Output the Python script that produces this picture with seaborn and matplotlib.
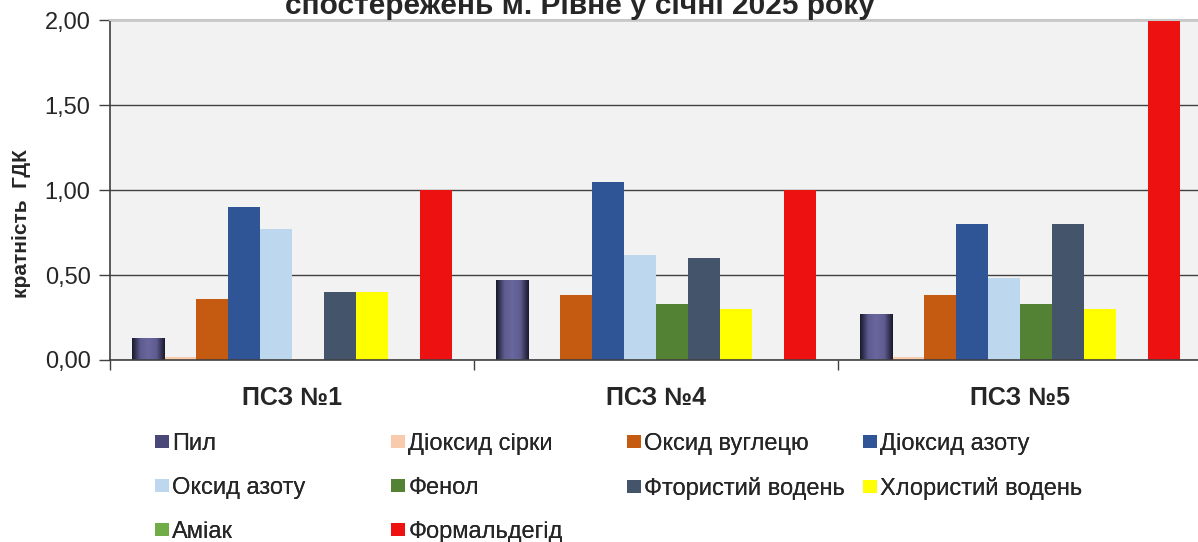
import numpy as np
import pandas as pd
import matplotlib
matplotlib.use("Agg")
import matplotlib.pyplot as plt
import seaborn as sns
from matplotlib.colors import LinearSegmentedColormap
from matplotlib.patches import Patch

# дані
posts = ["ПСЗ №1", "ПСЗ №4", "ПСЗ №5"]
substances = ["Пил", "Діоксид сірки", "Оксид вуглецю", "Діоксид азоту", "Оксид азоту",
              "Фенол", "Фтористий водень", "Хлористий водень", "Аміак", "Формальдегід"]
pyl = [0.13, 0.47, 0.27]
dioksyd_sirky = [0.02, 0.0, 0.02]
oksyd_vuhletsiu = [0.36, 0.38, 0.38]
dioksyd_azotu = [0.90, 1.05, 0.80]
oksyd_azotu = [0.77, 0.62, 0.48]
fenol = [0.0, 0.33, 0.33]
ftorystyi_voden = [0.40, 0.60, 0.80]
khlorystyi_voden = [0.40, 0.30, 0.30]
amiak = [0.0, 0.0, 0.0]
formaldehid = [1.00, 1.00, 2.00]

colors = ["#5C5A8C", "#F8CBAD", "#C55A11", "#2F5597", "#BDD7EE",
          "#548235", "#44546A", "#FFFF00", "#70AD47", "#EE1111"]

series = [pyl, dioksyd_sirky, oksyd_vuhletsiu, dioksyd_azotu, oksyd_azotu,
          fenol, ftorystyi_voden, khlorystyi_voden, amiak, formaldehid]
rows = []
for name, vals in zip(substances, series):
    for post, v in zip(posts, vals):
        rows.append({"ПСЗ": post, "Речовина": name, "Кратність": v})
df = pd.DataFrame(rows)

sns.set_style("white")
plt.rcParams['font.family'] = ['Liberation Sans', 'DejaVu Sans']

fig = plt.figure(figsize=(11.98, 5.42), dpi=100)
ax = fig.add_axes([0.0918, 0.3358, 0.9115, 0.6272])
ax.set_facecolor("#F2F2F2")

sns.barplot(data=df, x="ПСЗ", y="Кратність", hue="Речовина", hue_order=substances,
            palette=colors, width=0.88, gap=0, linewidth=0, saturation=1,
            legend=False, ax=ax)

# градієнт для "Пил"
grad = LinearSegmentedColormap.from_list("pyl", ["#1A1A2C", "#5E5B90", "#6A679E", "#5E5B90", "#1A1A2C"])
for bar in ax.containers[0]:
    x0, y0 = bar.get_x(), bar.get_y()
    w, h = bar.get_width(), bar.get_height()
    if h <= 0:
        continue
    im = ax.imshow(np.linspace(0, 1, 64).reshape(1, -1), cmap=grad, aspect="auto",
                   extent=(x0, x0 + w, y0, y0 + h), zorder=bar.get_zorder() + 0.1)
    im.set_clip_path(bar)

ax.set_xlim(-0.5, 2.5)
ax.set_ylim(0, 2.0)
ax.set_yticks([0, 0.5, 1.0, 1.5, 2.0])
ax.set_yticklabels(["0,00", "0,50", "1,00", "1,50", "2,00"], fontsize=17)
ax.yaxis.grid(True, color="#404040", linewidth=1.0)
ax.set_axisbelow(True)
ax.tick_params(axis="y", which="major", direction="out", length=8, width=1, color="#404040", pad=6, left=True)
ax.set_xticks([0, 1, 2])
ax.set_xticklabels(posts, fontsize=18, fontweight="bold")
ax.set_xticks([-0.5, 0.5, 1.5, 2.5], minor=True)
ax.tick_params(axis="x", which="major", length=0, pad=19)
ax.tick_params(axis="x", which="minor", direction="out", length=7, width=1, color="#404040", bottom=True)
ax.set_xlabel("")
ax.set_ylabel("кратність  ГДК", fontsize=15, fontweight="bold")
ax.yaxis.set_label_coords(-0.072, 0.40)

for s in ["left", "bottom"]:
    ax.spines[s].set_color("#404040")
    ax.spines[s].set_linewidth(1.2)
ax.spines["top"].set_visible(True)
ax.spines["top"].set_color("#C8C8C8")
ax.spines["top"].set_linewidth(1.5)
ax.spines["right"].set_visible(False)

fig.text(0.484, 1 - 14 / 542, "спостережень м. Рівне у січні 2025 року",
         ha="center", va="baseline", fontsize=21.5, fontweight="bold")

# легенда у 4 колонки
handles = [Patch(facecolor=c, edgecolor="none") for c in colors]
handles[0] = Patch(facecolor="#4A4878", edgecolor="none")
col_x = [155, 391, 627, 863]
for j in range(4):
    hs = handles[j::4]
    ls = substances[j::4]
    leg = fig.legend(hs, ls, loc="upper left", bbox_to_anchor=(col_x[j] / 1198, 1 - 433 / 542),
                     frameon=False, fontsize=17, handlelength=0.58, handleheight=0.45,
                     handletextpad=0.15, labelspacing=0.93, borderaxespad=0, borderpad=0)
    fig.add_artist(leg)

fig.savefig("out.png", dpi=100)
